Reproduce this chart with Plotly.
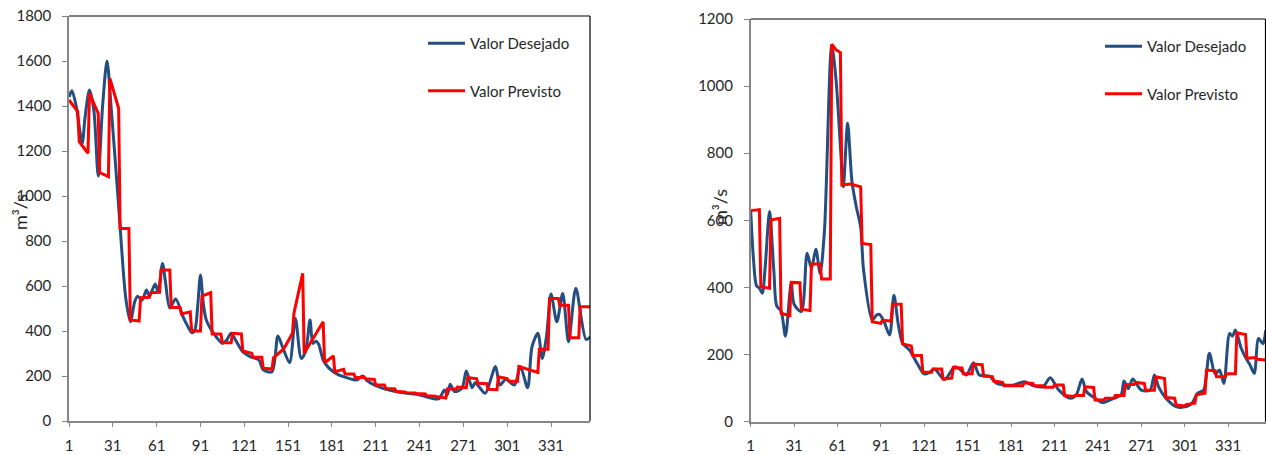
import plotly.graph_objects as go

# ---------------- data (day index, m3/s) ----------------
left_des_day = [1, 3, 6, 10, 12, 15, 18, 21, 24, 27, 30, 34, 36, 38, 40, 43, 46, 48, 51, 54, 56, 60, 62, 65, 67, 70,
                74, 79, 82, 85, 87, 89, 91, 93, 95, 100, 106, 109, 112, 115, 120, 125, 131, 134, 140, 144, 147, 152,
                156, 160, 163, 166, 168, 170, 172, 175, 179, 182, 186, 190, 198, 202, 205, 210, 218, 230, 241, 254,
                258, 260, 262, 265, 270, 273, 277, 279, 282, 286, 293, 296, 300, 306, 310, 315, 318, 322, 325, 328,
                331, 335, 339, 343, 348, 355, 358]
left_des_val = [1440, 1468, 1397, 1234, 1350, 1471, 1382, 1089, 1400, 1600, 1382, 1041, 864, 680, 540, 441, 530, 555,
                537, 582, 555, 609, 574, 700, 620, 502, 542, 464, 425, 393, 400, 500, 649, 520, 449, 390, 345, 360,
                390, 360, 308, 286, 271, 227, 219, 378, 333, 259, 456, 278, 310, 449, 345, 355, 340, 271, 235, 219,
                204, 195, 182, 200, 180, 160, 141, 125, 116, 98, 138, 116, 163, 131, 145, 222, 148, 170, 150, 123,
                242, 160, 185, 160, 242, 148, 330, 390, 278, 380, 564, 441, 567, 352, 590, 363, 374]

left_prev_day = [1, 7, 8, 14, 15, 21, 22, 28, 29, 35, 36, 42, 43, 49, 50, 56, 57, 63, 64, 70, 71, 77, 78, 84, 85, 91,
                 92, 98, 99, 105, 106, 112, 113, 119, 120, 126, 127, 133, 134, 140, 141, 148, 154, 155, 161, 162,
                 175, 176, 182, 183, 189, 190, 196, 197, 203, 204, 210, 211, 217, 218, 224, 225, 231, 232, 238, 239,
                 245, 246, 252, 253, 259, 260, 266, 267, 273, 274, 280, 281, 287, 288, 294, 295, 301, 302, 308, 309,
                 322, 323, 329, 330, 336, 337, 343, 344, 350, 351, 358]
left_prev_val = [1427, 1375, 1241, 1190, 1456, 1367, 1104, 1086, 1523, 1389, 856, 856, 449, 444, 548, 550, 570, 572,
                 671, 671, 505, 505, 476, 485, 400, 400, 555, 570, 387, 387, 348, 348, 390, 387, 311, 301, 283, 283,
                 234, 231, 281, 320, 390, 479, 656, 301, 441, 259, 289, 219, 230, 209, 209, 192, 195, 188, 185, 160,
                 160, 143, 143, 131, 129, 126, 124, 122, 120, 112, 110, 108, 102, 142, 142, 151, 148, 193, 188, 168,
                 166, 141, 139, 196, 188, 178, 176, 242, 216, 319, 319, 545, 545, 514, 514, 370, 370, 508, 508]

right_des_day = [1, 3, 5, 7, 9, 11, 14, 17, 19, 22, 25, 29, 31, 36, 40, 43, 46, 49, 52, 57, 60, 63, 65, 68, 71, 74,
                 77, 79, 85, 88, 90, 93, 97, 100, 103, 106, 111, 116, 121, 125, 128, 135, 142, 146, 150, 155, 159,
                 166, 171, 182, 190, 196, 203, 208, 214, 222, 226, 230, 233, 239, 244, 252, 257, 259, 262, 265, 271,
                 277, 280, 283, 288, 295, 302, 306, 310, 314, 318, 322, 325, 328, 332, 334, 336, 340, 344, 346, 349,
                 352, 355, 357]
right_des_val = [630, 480, 405, 398, 383, 460, 626, 450, 345, 330, 255, 414, 350, 328, 502, 457, 514, 442, 571, 1122,
                 1018, 820, 700, 889, 715, 640, 580, 452, 303, 318, 320, 300, 258, 377, 290, 234, 212, 174, 142, 148,
                 157, 126, 164, 155, 139, 176, 139, 136, 114, 109, 119, 108, 104, 131, 94, 70, 80, 127, 90, 70, 57,
                 70, 80, 121, 98, 127, 94, 94, 139, 103, 70, 45, 45, 55, 85, 94, 204, 142, 154, 114, 263, 255, 273,
                 219, 184, 170, 144, 248, 232, 273]

right_prev_day = [1, 7, 8, 14, 15, 21, 22, 28, 29, 35, 36, 42, 43, 49, 50, 56, 57, 60, 63, 64, 70, 77, 78, 84, 85, 91,
                  92, 98, 99, 105, 106, 112, 113, 119, 120, 126, 127, 133, 134, 140, 141, 147, 148, 154, 155, 161,
                  162, 168, 169, 175, 176, 189, 190, 196, 197, 203, 204, 210, 211, 217, 218, 224, 225, 231, 232, 238,
                  239, 245, 246, 252, 253, 259, 260, 266, 267, 273, 274, 280, 281, 287, 288, 294, 295, 301, 302, 308,
                  309, 315, 316, 322, 323, 329, 330, 336, 337, 343, 344, 350, 351, 357]
right_prev_val = [629, 632, 402, 398, 601, 606, 323, 316, 415, 414, 335, 331, 470, 470, 425, 425, 1125, 1108, 1100,
                  705, 708, 700, 531, 528, 298, 293, 302, 300, 350, 350, 232, 226, 197, 197, 147, 147, 157, 157, 127,
                  130, 161, 160, 143, 143, 172, 170, 136, 134, 121, 117, 107, 107, 116, 114, 107, 107, 103, 103, 109,
                  109, 78, 75, 78, 78, 104, 102, 65, 65, 70, 70, 78, 78, 111, 111, 117, 114, 94, 94, 134, 129, 72, 70,
                  50, 47, 51, 55, 80, 85, 154, 152, 134, 134, 143, 143, 265, 260, 189, 191, 186, 184]

series_names = ["Valor Desejado", "Valor Previsto"]
x_tick_vals = [1, 31, 61, 91, 121, 151, 181, 211, 241, 271, 301, 331]
y_ticks_left = [0, 200, 400, 600, 800, 1000, 1200, 1400, 1600, 1800]
y_ticks_right = [0, 200, 400, 600, 800, 1000, 1200]
y_title = "m³/s"

# ---------------- styling ----------------
W, H = 1266, 455
BLUE = "#254E80"
RED = "#FF0000"
AX = "#868686"
TXT = "#262626"
FONT = "Lato"

fig = go.Figure()

fig.add_trace(go.Scatter(x=left_des_day, y=left_des_val, name=series_names[0], mode="lines",
                         line=dict(color=BLUE, width=3, shape="spline", smoothing=0.8),
                         xaxis="x", yaxis="y", legend="legend", legendgroup="a"))
fig.add_trace(go.Scatter(x=left_prev_day, y=left_prev_val, name=series_names[1], mode="lines",
                         line=dict(color=RED, width=3),
                         xaxis="x", yaxis="y", legend="legend", legendgroup="b"))
fig.add_trace(go.Scatter(x=right_des_day, y=right_des_val, name=series_names[0], mode="lines",
                         line=dict(color=BLUE, width=3, shape="spline", smoothing=0.8),
                         xaxis="x2", yaxis="y2", legend="legend2", legendgroup="c"))
fig.add_trace(go.Scatter(x=right_prev_day, y=right_prev_val, name=series_names[1], mode="lines",
                         line=dict(color=RED, width=3),
                         xaxis="x2", yaxis="y2", legend="legend2", legendgroup="d"))

def xaxis_style(domain, rng, anchor):
    return dict(domain=domain, range=rng, anchor=anchor, tickvals=x_tick_vals, automargin=False,
                showline=True, linecolor=AX, linewidth=1.5, ticks="outside", tickcolor=AX,
                ticklen=4, tickwidth=1, showgrid=False, zeroline=False,
                tickfont=dict(family=FONT, size=15, color=TXT), ticklabelstandoff=6)

def yaxis_style(domain, rng, ticks, anchor):
    return dict(domain=domain, range=rng, anchor=anchor, tickvals=ticks, automargin=False,
                showline=True, linecolor=AX, linewidth=1.5, ticks="outside", tickcolor=AX,
                ticklen=5, tickwidth=1, showgrid=False, zeroline=False,
                tickfont=dict(family=FONT, size=15, color=TXT), ticklabelstandoff=8)

lx = [69 / W, 590 / W]
rx = [750.7 / W, 1265.5 / W]
ly = [(H - 421) / H, (H - 16) / H]
ry = [(H - 421.7) / H, (H - 19) / H]

legend_common = dict(xanchor="left", yanchor="top", bgcolor="rgba(0,0,0,0)",
                     font=dict(family=FONT, size=15, color=TXT), itemwidth=37,
                     traceorder="grouped", tracegroupgap=25)

border = dict(color="black", width=1.2)
shapes = []
for xr, yr in (("x domain", "y domain"), ("x2 domain", "y2 domain")):
    shapes.append(dict(type="line", xref=xr, yref=yr, x0=0, x1=1, y0=1, y1=1, line=border))
    shapes.append(dict(type="line", xref=xr, yref=yr, x0=1, x1=1, y0=0, y1=1, line=border))

fig.update_layout(
    width=W, height=H,
    autosize=False,
    margin=dict(l=0, r=0, t=0, b=0, pad=0, autoexpand=False),
    paper_bgcolor="white", plot_bgcolor="white",
    xaxis=xaxis_style(lx, [1, 357.7], "y"),
    yaxis=yaxis_style(ly, [0, 1800], y_ticks_left, "x"),
    xaxis2=xaxis_style(rx, [1, 356.8], "y2"),
    yaxis2=yaxis_style(ry, [0, 1200], y_ticks_right, "x2"),
    legend=dict(x=423 / W, y=(H - 27) / H, **legend_common),
    legend2=dict(x=1100 / W, y=(H - 30) / H, **legend_common),
    shapes=shapes,
    annotations=[
        dict(text=y_title, xref="paper", yref="paper", x=20 / W, y=(H - 212) / H, showarrow=False,
             textangle=-90, font=dict(family=FONT, size=18, color=TXT), xanchor="center", yanchor="middle"),
        dict(text=y_title, xref="paper", yref="paper", x=720 / W, y=(H - 207) / H, showarrow=False,
             textangle=-90, font=dict(family=FONT, size=18, color=TXT), xanchor="center", yanchor="middle"),
    ],
    showlegend=True,
)

fig.write_html("out.html")
